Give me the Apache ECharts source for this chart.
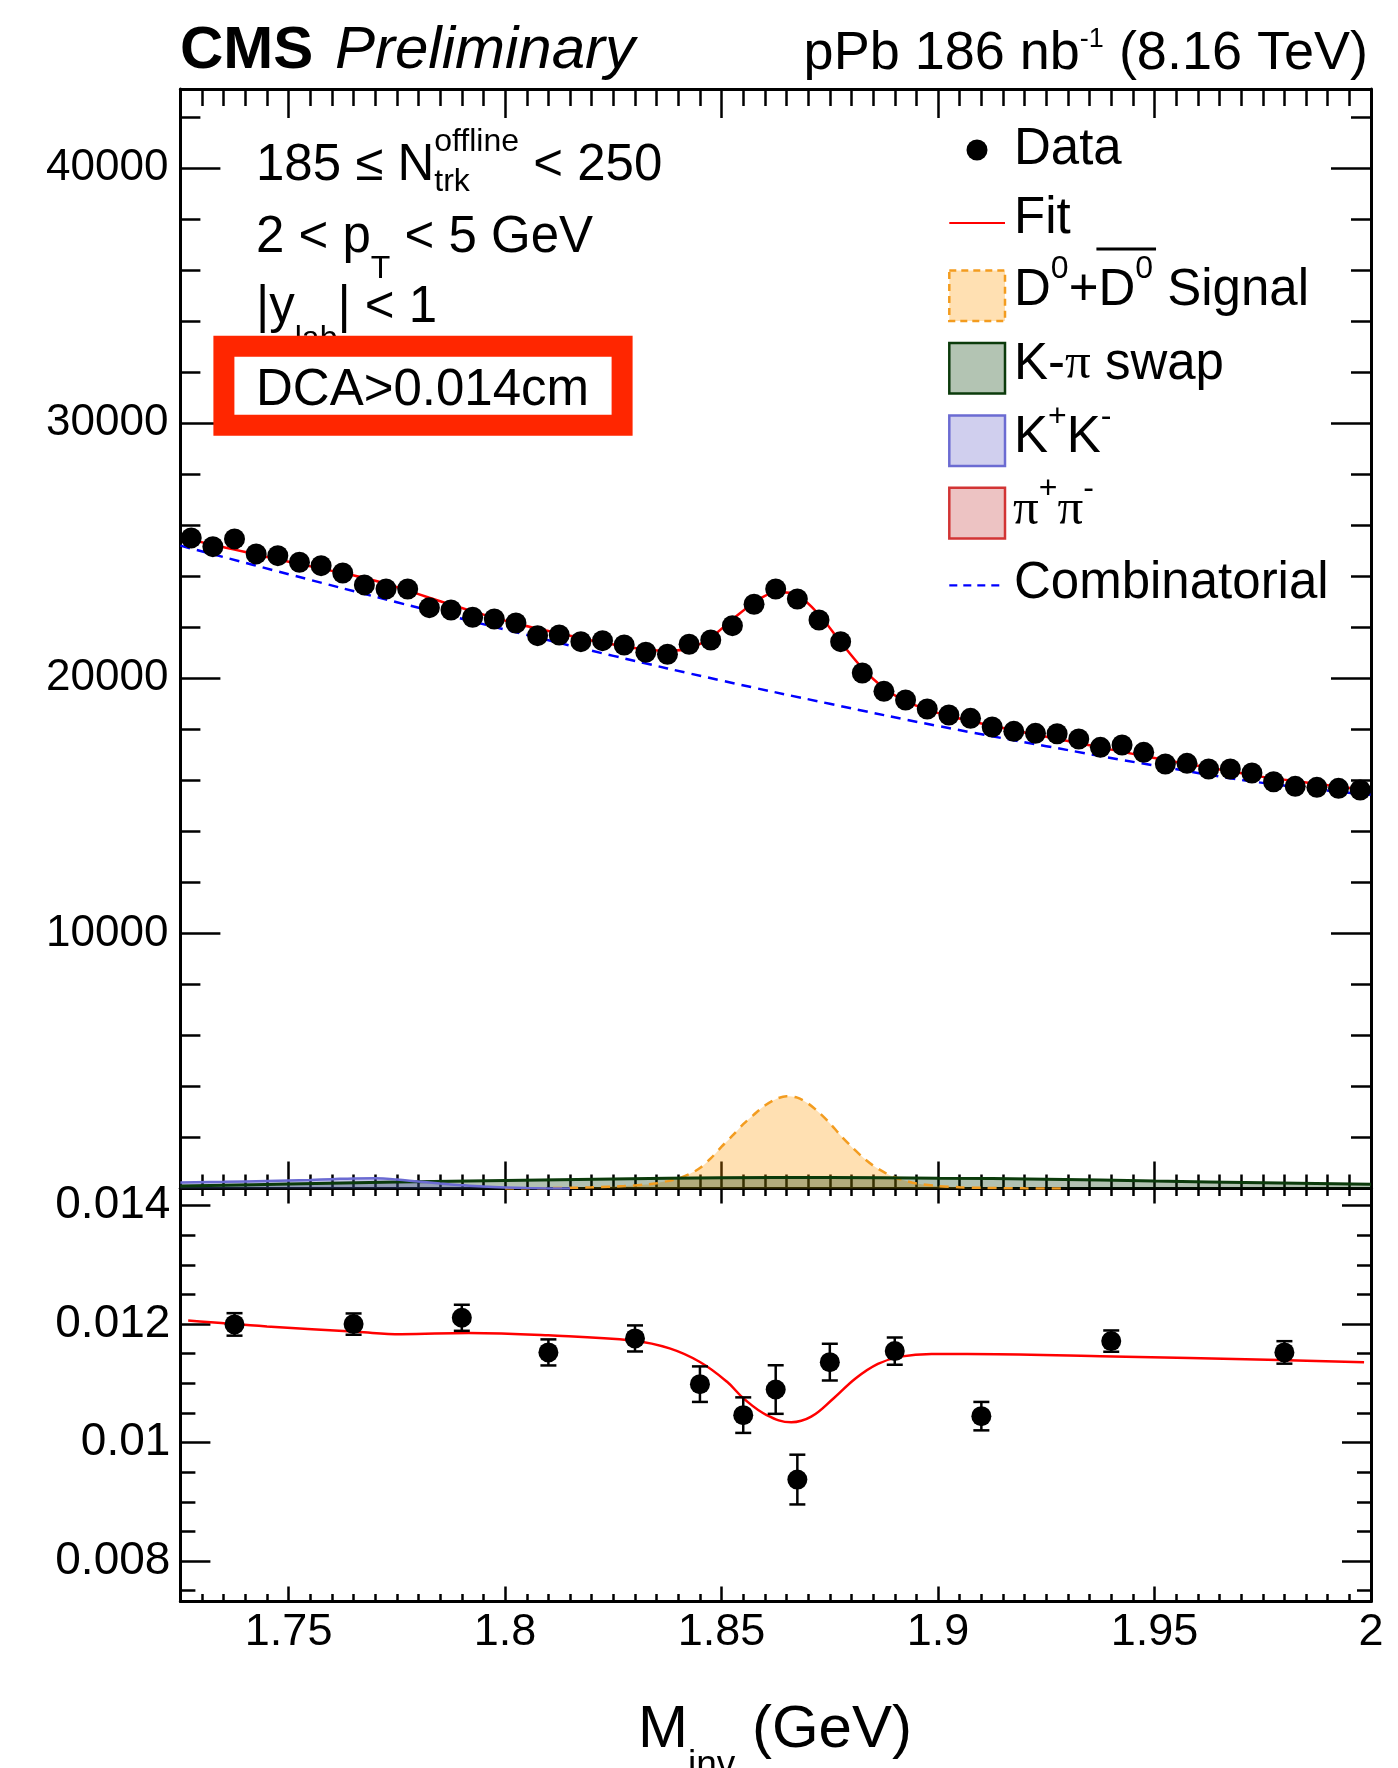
<!DOCTYPE html>
<html>
<head>
<meta charset="utf-8">
<script src="https://cdn.jsdelivr.net/npm/echarts@6/dist/echarts.min.js"></script>
<style>
  html, body { margin: 0; padding: 0; background: #fff; }
  #chart { width: 1398px; height: 1768px; }
</style>
</head>
<body>
<div id="chart"></div>
<script>
// ---- Upper panel: candidate counts per 5 MeV invariant-mass bin ----
const massBins = [
  1.7275, 1.7325, 1.7375, 1.7425, 1.7475, 1.7525, 1.7575, 1.7625, 1.7675, 1.7725,
  1.7775, 1.7825, 1.7875, 1.7925, 1.7975, 1.8025, 1.8075, 1.8125, 1.8175, 1.8225,
  1.8275, 1.8325, 1.8375, 1.8425, 1.8475, 1.8525, 1.8575, 1.8625, 1.8675, 1.8725,
  1.8775, 1.8825, 1.8875, 1.8925, 1.8975, 1.9025, 1.9075, 1.9125, 1.9175, 1.9225,
  1.9275, 1.9325, 1.9375, 1.9425, 1.9475, 1.9525, 1.9575, 1.9625, 1.9675, 1.9725,
  1.9775, 1.9825, 1.9875, 1.9925, 1.9975
];
const dataCounts = [
  25502, 25161, 25463, 24875, 24808, 24549, 24416, 24129, 23659, 23502,
  23502, 22769, 22678, 22392, 22325, 22169, 21671, 21698, 21435, 21475,
  21306, 21020, 20941, 21333, 21502, 22063, 22902, 23500, 23110, 22286,
  21435, 20208, 19490, 19149, 18796, 18561, 18431, 18090, 17922, 17843,
  17827, 17620, 17294, 17384, 17098, 16639, 16667, 16443, 16443, 16286,
  15945, 15765, 15725, 15686, 15620
];
const fitCounts = [
  25429, 25235, 25043, 24853, 24664, 24478, 24298, 24121, 23933, 23708,
  23439, 23159, 22887, 22625, 22377, 22149, 21948, 21759, 21573, 21402,
  21253, 21129, 21080, 21166, 21602, 22310, 22960, 23380, 23260, 22500,
  21421, 20402, 19623, 19104, 18770, 18522, 18323, 18140, 17964, 17793,
  17622, 17455, 17288, 17121, 16954, 16796, 16648, 16500, 16352, 16204,
  16077, 15970, 15863, 15756, 15649
];

// Fit components
const combMass   = [1.725, 1.75, 1.775, 1.8, 1.825, 1.85, 1.875, 1.9, 1.925, 1.95, 1.975, 2.0];
const combCounts = [25200, 24080, 22980, 21910, 20880, 19910, 19000, 18130, 17340, 16580, 15900, 15430];

const swapMass   = [1.725, 1.75, 1.775, 1.8, 1.825, 1.85, 1.875, 1.9, 1.925, 1.95, 1.975, 2.0];
const swapCounts = [95, 175, 250, 310, 370, 420, 430, 405, 365, 290, 230, 165];

const kkMass   = [1.725, 1.735, 1.745, 1.755, 1.76, 1.765, 1.77, 1.775, 1.78, 1.785, 1.79, 1.795, 1.8, 1.805, 1.81, 1.815];
const kkCounts = [235, 262, 295, 335, 365, 395, 400, 355, 270, 195, 130, 75, 38, 15, 4, 0];

const signalMass = [
  1.8, 1.81, 1.82, 1.8275, 1.8325, 1.835, 1.8375, 1.84, 1.8425, 1.845,
  1.8475, 1.85, 1.8525, 1.855, 1.8575, 1.86, 1.8625, 1.865, 1.8675, 1.87,
  1.8725, 1.875, 1.8775, 1.88, 1.8825, 1.885, 1.8875, 1.89, 1.8925, 1.895,
  1.9, 1.905, 1.91, 1.92, 1.93
];
const signalCounts = [
  0, 15, 45, 95, 155, 210, 290, 390, 560, 800,
  1180, 1640, 2070, 2520, 2900, 3250, 3500, 3620, 3560, 3330,
  2980, 2560, 2080, 1640, 1240, 900, 640, 440, 300, 200,
  95, 50, 25, 5, 0
];

// ---- Lower panel: per-bin fraction with statistical errors ----
const ratioMass   = [1.7375, 1.765, 1.79, 1.81, 1.83, 1.845, 1.855, 1.8625, 1.8675, 1.875, 1.89, 1.91, 1.94, 1.98];
const ratioValues = [0.011995, 0.01200, 0.012107, 0.011522, 0.011758, 0.010986, 0.010463, 0.010895, 0.009375, 0.011358, 0.011544, 0.010446, 0.011713, 0.011522];
const ratioErrors = [0.00019, 0.00018, 0.00022, 0.00022, 0.00022, 0.00030, 0.00030, 0.00041, 0.00042, 0.00031, 0.00023, 0.00024, 0.00018, 0.00019];

const ratioFitMass   = [1.7268, 1.745, 1.7658, 1.776, 1.7916, 1.81, 1.8297, 1.838, 1.845, 1.8512, 1.8553, 1.8604, 1.8661, 1.8707, 1.8759, 1.881, 1.8861, 1.8913, 1.8985, 1.9067, 1.9375, 1.9787, 1.9984];
const ratioFitValues = [0.01206, 0.01196, 0.01187, 0.01183, 0.01185, 0.01181, 0.01172, 0.01159, 0.01136, 0.01103, 0.01073, 0.010465, 0.010342, 0.010437, 0.010748, 0.011086, 0.011328, 0.011451, 0.011497, 0.011497, 0.011458, 0.011395, 0.011356];

// ---- Axis ranges and tick labels ----
const X_MIN = 1.725, X_MAX = 2.0;
const Y_UP_MIN = 0, Y_UP_MAX = 43100;
const Y_LO_MIN = 0.007316, Y_LO_MAX = 0.01429;
const xMajorTicks = [1.75, 1.8, 1.85, 1.9, 1.95, 2];
const yUpperMajor = [0, 10000, 20000, 30000, 40000];
const yUpperLabels = [10000, 20000, 30000, 40000];
const yLowerMajor = [0.008, 0.01, 0.012, 0.014];

// minor tick positions: every 5 MeV, every 2000 counts, every 0.0005
const xMinorTicks = [];
for (let i = 0; i <= 55; i++) xMinorTicks.push(Math.round((1.725 + i * 0.005) * 10000) / 10000);
const yUpperMinor = [];
for (let v = 0; v <= 42000; v += 2000) yUpperMinor.push(v);
const yLowerMinor = [];
for (let i = 15; i <= 28; i++) yLowerMinor.push(Math.round(i * 0.0005 * 1e5) / 1e5);

const zip = (xs, ys) => xs.map((x, i) => [x, ys[i]]);

// ---- Axes ----
const tickStyle = { color: '#000', width: 2.5 };
const frameLine = { show: true, onZero: false, lineStyle: { color: '#000', width: 3 } };
const labelFont = { color: '#000', fontFamily: '"Liberation Sans", Arial, sans-serif' };

function axis(range, grid, pos, ticks, len, extra) {
  return Object.assign({
    type: 'value', gridIndex: grid, position: pos, offset: 0,
    min: range[0], max: range[1],
    splitLine: { show: false }, minorTick: { show: false }, minorSplitLine: { show: false },
    axisLine: { show: false, onZero: false },
    axisTick: { show: true, inside: true, length: len, customValues: ticks, lineStyle: tickStyle },
    axisLabel: { show: false },
    axisPointer: { show: false }
  }, extra || {});
}
const XR = [X_MIN, X_MAX], YU = [Y_UP_MIN, Y_UP_MAX], YL = [Y_LO_MIN, Y_LO_MAX];

const xAxes = [
  axis(XR, 0, 'bottom', xMajorTicks, 27, { axisLine: frameLine }),
  axis(XR, 0, 'bottom', xMinorTicks, 14),
  axis(XR, 0, 'top', xMajorTicks, 29, { axisLine: frameLine }),
  axis(XR, 0, 'top', xMinorTicks, 17),
  axis(XR, 1, 'bottom', xMajorTicks, 15, {
    axisLine: frameLine,
    axisLabel: Object.assign({ show: true, customValues: xMajorTicks, margin: 9, fontSize: 45, formatter: v => String(v) }, labelFont)
  }),
  axis(XR, 1, 'bottom', xMinorTicks, 7.5),
  axis(XR, 1, 'top', xMajorTicks, 15, { axisLine: frameLine }),
  axis(XR, 1, 'top', xMinorTicks, 7.5)
];
const yAxes = [
  axis(YU, 0, 'left', yUpperMajor, 40, {
    axisLine: frameLine,
    axisLabel: Object.assign({ show: true, customValues: yUpperLabels, margin: 12, fontSize: 44,
      padding: [12, 0, 0, 0], formatter: v => String(v) }, labelFont)
  }),
  axis(YU, 0, 'left', yUpperMinor, 20),
  axis(YU, 0, 'right', yUpperMajor, 40, { axisLine: frameLine }),
  axis(YU, 0, 'right', yUpperMinor, 20),
  axis(YL, 1, 'left', yLowerMajor, 30, {
    axisLine: frameLine,
    axisLabel: Object.assign({ show: true, customValues: yLowerMajor, margin: 10, fontSize: 46,
      padding: [12, 0, 0, 0], formatter: v => String(v) }, labelFont)
  }),
  axis(YL, 1, 'left', yLowerMinor, 15),
  axis(YL, 1, 'right', yLowerMajor, 29, { axisLine: frameLine }),
  axis(YL, 1, 'right', yLowerMinor, 14)
];

// ---- Text helpers (sub/superscripts laid out piece by piece) ----
const SANS = '"Liberation Sans", Arial, Helvetica, sans-serif';
const SERIF = '"Liberation Serif", "DejaVu Serif", serif';
const measureCtx = document.createElement('canvas').getContext('2d');
function fontOf(p) {
  return (p.italic ? 'italic ' : '') + (p.bold ? 'bold ' : '') + p.size + 'px ' + (p.serif ? SERIF : SANS);
}
function textWidth(p) { measureCtx.font = fontOf(p); return measureCtx.measureText(p.t).width; }
const MID = 0.34; // distance from alphabetic baseline to the middle line, in em
function textPiece(p, x, base, z) {
  return {
    type: 'text', x: x, y: base + (p.dy || 0) - MID * p.size, z: z || 50, silent: true,
    style: { text: p.t, font: fontOf(p), fill: '#000', align: 'left', verticalAlign: 'middle',
             textAlign: 'left', textVerticalAlign: 'middle' }
  };
}
function run(x, base, pieces, z) {
  const els = [];
  const marks = [];
  for (const p of pieces) {
    marks.push(x);
    if (p.stack) {
      let w = 0;
      p.stack.forEach(q => { els.push(textPiece(q, x, base, z)); w = Math.max(w, textWidth(q)); });
      x += w;
    } else {
      els.push(textPiece(p, x, base, z));
      x += textWidth(p);
    }
  }
  return { els, marks, end: x };
}
function runWidth(pieces) { return pieces.reduce((s, p) => s + textWidth(p), 0); }

const graphics = [];
function add(r) { r.els.forEach(e => graphics.push(e)); return r; }

const TS = 51;   // body text size
const SS = 32;   // sub/superscript size

// Header
add(run(180, 72, [{ t: 'CMS', size: 60, bold: true }]));
add(run(335, 72, [{ t: 'Preliminary', size: 60, italic: true }]));
const lumi = [{ t: 'pPb 186 nb', size: 54 }, { t: '-1', size: 27, dy: -23 }, { t: ' (8.16 TeV)', size: 54 }];
add(run(1368 - runWidth(lumi), 72, lumi));

// Selection text
add(run(256, 183, [
  { t: '185 ≤ N', size: TS },
  { stack: [{ t: 'offline', size: SS, dy: -30 }, { t: 'trk', size: SS, dy: 10 }] },
  { t: ' < 250', size: TS }
]));
add(run(256, 255, [{ t: '2 < p', size: TS }, { t: 'T', size: SS, dy: 25 }, { t: ' < 5 GeV', size: TS }]));
add(run(256, 325, [{ t: '|y', size: TS }, { t: 'lab', size: SS, dy: 25 }, { t: '| < 1', size: TS }], 40));

// Highlighted cut box
graphics.push({
  type: 'rect', z: 60, silent: true,
  shape: { x: 223.9, y: 346.2, width: 398.2, height: 79 },
  style: { fill: '#fff', stroke: '#ff2600', lineWidth: 21 }
});
add(run(256, 408, [{ t: 'DCA>0.014cm', size: TS }], 70));

// Legend
const LX = 949.3, LW = 55.7, LH = 50.6, TX = 1014;
graphics.push({ type: 'circle', z: 50, silent: true, shape: { cx: 977, cy: 150, r: 10.5 }, style: { fill: '#000' } });
add(run(TX, 166.8, [{ t: 'Data', size: TS }]));

graphics.push({ type: 'line', z: 50, silent: true, shape: { x1: LX, y1: 223, x2: LX + LW, y2: 223 }, style: { stroke: '#ff0000', lineWidth: 2.2 } });
add(run(TX, 236.4, [{ t: 'Fit', size: TS }]));

graphics.push({ type: 'rect', z: 50, silent: true, shape: { x: LX, y: 270.5, width: LW, height: LH },
  style: { fill: 'rgb(255,224,178)', stroke: '#f39c1f', lineWidth: 2.5, lineDash: [7, 5] } });
const sig = add(run(TX, 308.6, [
  { t: 'D', size: TS }, { t: '0', size: SS, dy: -29 }, { t: '+', size: TS },
  { t: 'D', size: TS }, { t: '0', size: SS, dy: -29 }, { t: ' Signal', size: TS }
]));
graphics.push({ type: 'line', z: 50, silent: true,
  shape: { x1: sig.marks[3] - 2, y1: 249, x2: sig.marks[5] + 3, y2: 249 },
  style: { stroke: '#000', lineWidth: 3 } });

graphics.push({ type: 'rect', z: 50, silent: true, shape: { x: LX, y: 343, width: LW, height: LH },
  style: { fill: 'rgb(179,196,179)', stroke: '#0b3b0b', lineWidth: 2.5 } });
add(run(TX, 382, [{ t: 'K-', size: TS }, { t: 'π', size: TS, serif: true }, { t: ' swap', size: TS }]));

graphics.push({ type: 'rect', z: 50, silent: true, shape: { x: LX, y: 415.5, width: LW, height: LH },
  style: { fill: 'rgb(208,207,238)', stroke: '#6b6bd2', lineWidth: 2.5 } });
add(run(TX, 455, [{ t: 'K', size: TS }, { t: '+', size: SS, dy: -27 }, { t: 'K', size: TS }, { t: '-', size: SS, dy: -27 }]));

graphics.push({ type: 'rect', z: 50, silent: true, shape: { x: LX, y: 487.8, width: LW, height: LH },
  style: { fill: 'rgb(237,195,195)', stroke: '#d23434', lineWidth: 2.5 } });
add(run(1013, 527.5, [{ t: 'π', size: TS, serif: true }, { t: '+', size: SS, dy: -27 }, { t: 'π', size: TS, serif: true }, { t: '-', size: SS, dy: -27 }]));

graphics.push({ type: 'line', z: 50, silent: true, shape: { x1: LX, y1: 585.4, x2: LX + LW, y2: 585.4 },
  style: { stroke: '#0000ff', lineWidth: 2.2, lineDash: [8, 6] } });
add(run(TX, 601.4, [{ t: 'Combinatorial', size: TS }]));

// Axis title
add(run(638, 1751, [{ t: 'M', size: 60 }, { t: 'inv', size: 37, dy: 27 }, { t: ' (GeV)', size: 60 }]));

// ---- Series ----
const series = [
  {
    name: 'D0+D0bar Signal', type: 'line', xAxisIndex: 0, yAxisIndex: 0,
    data: zip(signalMass, signalCounts), smooth: 0.3, symbol: 'none', silent: true,
    lineStyle: { color: '#f39c1f', width: 2.5, type: [9, 7] },
    areaStyle: { color: 'rgba(255,153,0,0.3)', opacity: 1 }
  },
  {
    name: 'K-pi swap', type: 'line', xAxisIndex: 0, yAxisIndex: 0,
    data: zip(swapMass, swapCounts), smooth: 0.4, symbol: 'none', silent: true,
    lineStyle: { color: '#0b3b0b', width: 3 },
    areaStyle: { color: 'rgba(0,51,0,0.3)', opacity: 1 }
  },
  {
    name: 'K+K-', type: 'line', xAxisIndex: 0, yAxisIndex: 0,
    data: zip(kkMass, kkCounts), smooth: 0.4, symbol: 'none', silent: true,
    lineStyle: { color: '#6b6bd2', width: 2.5 },
    areaStyle: { color: 'rgba(80,80,200,0.3)', opacity: 1 }
  },
  {
    name: 'Combinatorial', type: 'line', xAxisIndex: 0, yAxisIndex: 0,
    data: zip(combMass, combCounts), smooth: 0.4, symbol: 'none', silent: true,
    lineStyle: { color: '#0000ff', width: 2.5, type: [10, 7] }
  },
  {
    name: 'Fit', type: 'line', xAxisIndex: 0, yAxisIndex: 0,
    data: zip(massBins, fitCounts), smooth: 0.3, symbol: 'none', silent: true,
    lineStyle: { color: '#ff0000', width: 2.5 }
  },
  {
    name: 'Data', type: 'scatter', xAxisIndex: 0, yAxisIndex: 0,
    data: zip(massBins, dataCounts), symbol: 'circle', symbolSize: 21, silent: true,
    itemStyle: { color: '#000', opacity: 1 }, z: 5
  },
  {
    name: 'Ratio fit', type: 'line', xAxisIndex: 4, yAxisIndex: 4,
    data: zip(ratioFitMass, ratioFitValues), smooth: 0.4, symbol: 'none', silent: true,
    lineStyle: { color: '#ff0000', width: 2.5 }
  },
  {
    name: 'Ratio errors', type: 'custom', xAxisIndex: 4, yAxisIndex: 4, silent: true, z: 4,
    data: ratioMass.map((m, i) => [m, ratioValues[i] - ratioErrors[i], ratioValues[i] + ratioErrors[i]]),
    encode: { x: 0, y: [1, 2] },
    renderItem: function (params, api) {
      const lo = api.coord([api.value(0), api.value(1)]);
      const hi = api.coord([api.value(0), api.value(2)]);
      const w = 8, st = { stroke: '#000', lineWidth: 2.5 };
      return {
        type: 'group',
        children: [
          { type: 'line', shape: { x1: lo[0], y1: lo[1], x2: hi[0], y2: hi[1] }, style: st },
          { type: 'line', shape: { x1: lo[0] - w, y1: lo[1], x2: lo[0] + w, y2: lo[1] }, style: st },
          { type: 'line', shape: { x1: hi[0] - w, y1: hi[1], x2: hi[0] + w, y2: hi[1] }, style: st }
        ]
      };
    }
  },
  {
    name: 'Ratio data', type: 'scatter', xAxisIndex: 4, yAxisIndex: 4,
    data: zip(ratioMass, ratioValues), symbol: 'circle', symbolSize: 20, silent: true,
    itemStyle: { color: '#000', opacity: 1 }, z: 5
  }
];

const chart = echarts.init(document.getElementById('chart'), null, { renderer: 'canvas' });
chart.setOption({
  animation: false,
  backgroundColor: '#fff',
  grid: [
    { left: 180.4, width: 1190.6, top: 89, height: 1099.5, outerBoundsMode: 'none' },
    { left: 180.4, width: 1190.6, top: 1188.5, height: 413, outerBoundsMode: 'none' }
  ],
  xAxis: xAxes,
  yAxis: yAxes,
  series: series,
  graphic: { elements: graphics }
});
</script>
</body>
</html>
